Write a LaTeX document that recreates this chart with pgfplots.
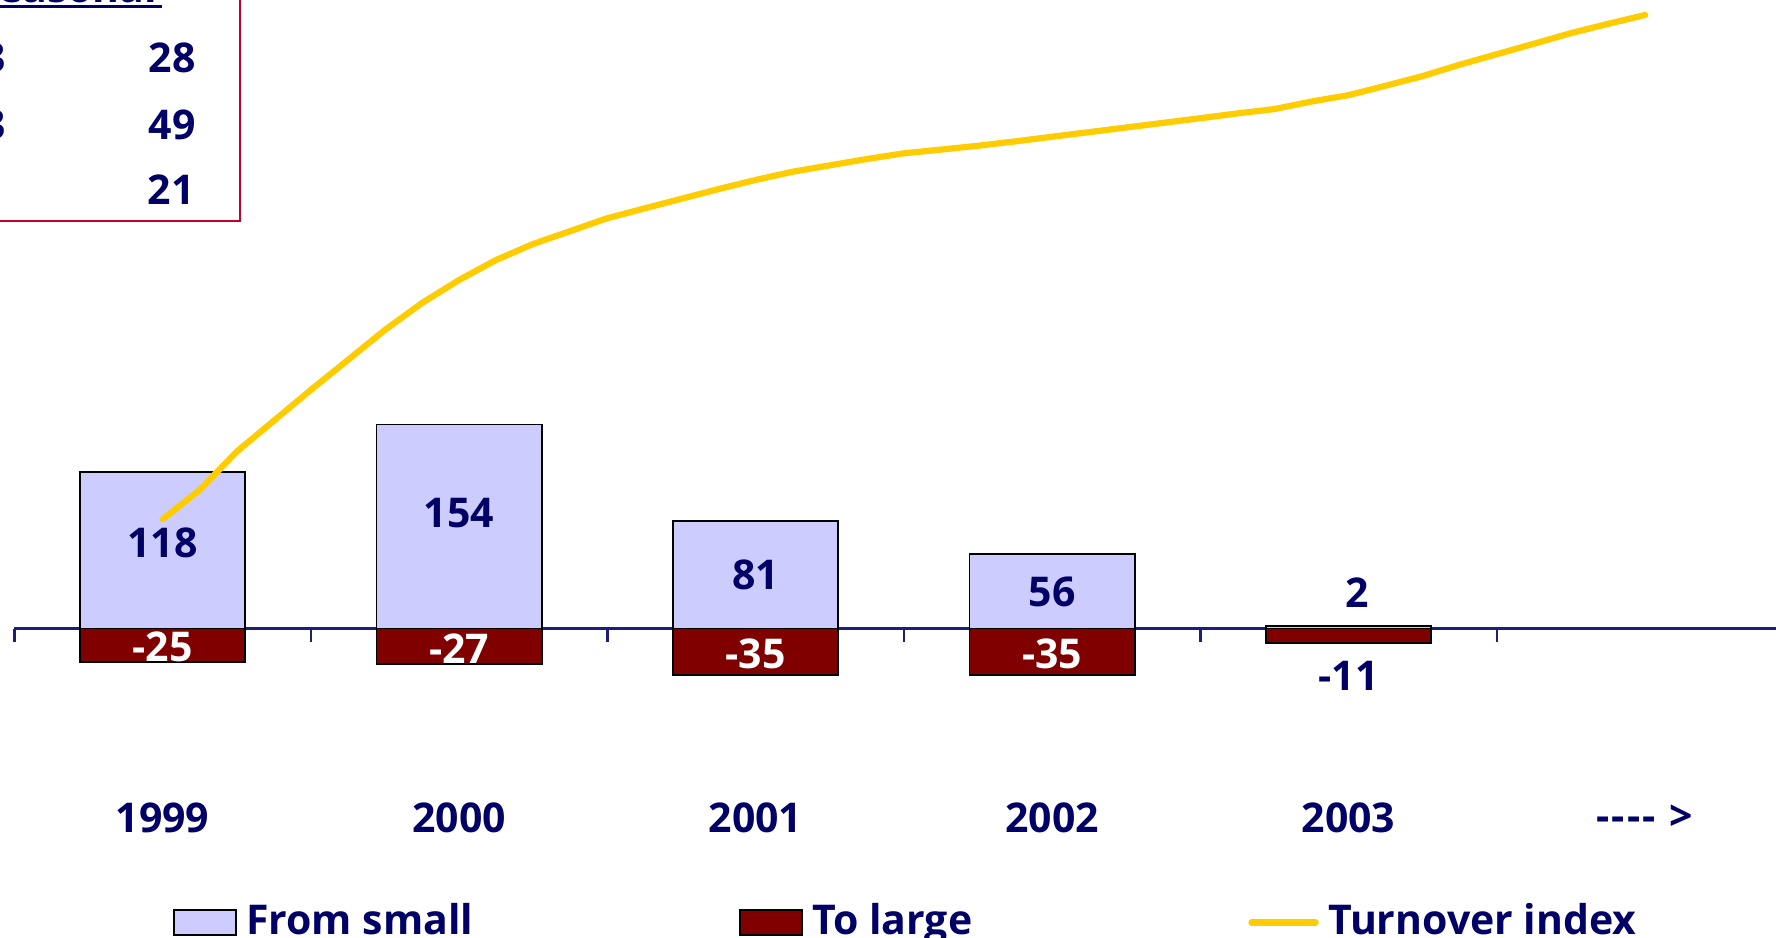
\documentclass[border=0pt]{standalone}
\usepackage{fontspec}
\setmainfont{Open Sans}
\usepackage{pgfplots}
\pgfplotsset{compat=1.18}
\definecolor{textnavy}{RGB}{0,0,102}
\definecolor{axisnavy}{RGB}{30,30,120}
\definecolor{lightbar}{RGB}{204,204,255}
\definecolor{darkbar}{RGB}{128,0,0}
\definecolor{lineyellow}{RGB}{255,204,0}
\definecolor{boxred}{RGB}{192,0,48}
\newcommand\cf{\fontsize{10.25pt}{12pt}\selectfont\bfseries}
\begin{document}
\begin{tikzpicture}
\useasboundingbox (0pt,0pt) rectangle (444pt,234.5pt);
\clip (0pt,0pt) rectangle (444pt,234.5pt);
% cropped table box in the upper left corner
\draw[boxred, line width=0.5pt] (-5pt,179.25pt) rectangle (60pt,240pt);
\node[font=\cf, text=textnavy, anchor=base east, inner sep=0pt] at (39.5pt,233.8pt) {Seasonal};
\draw[textnavy, line width=0.75pt] (0pt,232.9pt) -- (40.5pt,232.9pt);
\node[font=\cf, text=textnavy, anchor=east, inner sep=0pt] at (1.6pt,220pt) {3};
\node[font=\cf, text=textnavy, anchor=east, inner sep=0pt] at (1.6pt,203.25pt) {3};
\node[font=\cf, text=textnavy, inner sep=0pt] at (43pt,220pt) {28};
\node[font=\cf, text=textnavy, inner sep=0pt] at (43pt,203.25pt) {49};
\node[font=\cf, text=textnavy, inner sep=0pt] at (42.75pt,187pt) {21};
\begin{axis}[
  at={(3.575pt,11.1pt)}, anchor=south west,
  scale only axis, width=444.75pt, height=225.25pt,
  xmin=-0.5, xmax=5.5, ymin=-200, ymax=480,
  axis x line=middle, axis y line=none,
  x axis line style={-, draw=axisnavy, line width=0.6pt},
  ytick=\empty,
  xtick={0,1,2,3,4,5},
  xticklabels={1999,2000,2001,2002,2003,{-\kern0.5pt-\kern0.5pt-\kern0.5pt-\kern3.6pt>}},
  major tick length=0pt,
  minor xtick={-0.5,0.5,1.5,2.5,3.5,4.5},
  minor tick length=3.4pt,
  tick align=outside,
  tick style={axisnavy, line width=0.6pt},
  xticklabel style={anchor=center, yshift=-47.25pt, font=\cf, text=textnavy},
  /pgf/number format/assume math mode=true,
  clip=false,
  legend columns=3,
  legend style={at={(0.0886,-0.032)}, anchor=west, draw=none, fill=none,
    inner sep=0pt, column sep=2.4pt,
    nodes={inner sep=0pt, font=\cf, text=textnavy},
    /tikz/column 2/.style={column sep=66.5pt},
    /tikz/column 4/.style={column sep=69pt}},
]
\addplot[ybar, bar width=41.3pt, bar shift=0pt, fill=lightbar, draw=black, line width=0.45pt,
  legend image code/.code={\draw[fill=lightbar, draw=black, line width=0.45pt] (0pt,-3.1pt) rectangle (15.5pt,3.1pt);}]
  coordinates {(0,118) (1,154) (2,81) (3,56) (4,2)};
\addlegendentry{From small}
\addplot[ybar, bar width=41.3pt, bar shift=0pt, fill=darkbar, draw=black, line width=0.45pt,
  legend image code/.code={\draw[fill=darkbar, draw=black, line width=0.45pt] (0pt,-3.1pt) rectangle (15.5pt,3.1pt);}]
  coordinates {(0,-25) (1,-27) (2,-35) (3,-35) (4,-11)};
\addlegendentry{To large}
\addplot[color=lineyellow, line width=1.55pt, line join=round, line cap=round,
  legend image code/.code={\draw[lineyellow, line width=1.6pt, line cap=round] (0pt,0pt) -- (16pt,0pt);}]
  table {
x y
0 82.5
0.125 104.6
0.25 133.5
0.375 156.8
0.5 180.1
0.625 202.7
0.75 225.4
0.875 245.7
1.0 263.1
1.125 278.2
1.25 290.3
1.375 300.0
1.5 309.7
1.625 317.1
1.75 324.4
1.875 331.7
2.0 338.6
2.125 344.8
2.25 349.6
2.375 354.4
2.5 358.7
2.625 361.5
2.75 364.4
2.875 367.7
3.0 371.2
3.125 374.7
3.25 378.2
3.375 381.7
3.5 385.2
3.625 388.8
3.75 392.1
3.875 397.8
4.0 402.6
4.125 409.7
4.25 417.0
4.375 425.6
4.5 433.5
4.625 441.4
4.75 449.4
4.875 456.4
5.0 463.1
};
\addlegendentry{Turnover index}
% value labels
\addplot[draw=none, mark=none, forget plot, nodes near coords, point meta=explicit symbolic,
  every node near coord/.append style={anchor=center, font=\cf, text=textnavy, inner sep=0pt}]
  table[meta=l] {
x y l
0 65.0 118
1 87.2 154
2 40.2 81
3 27.4 56
4.03 27.4 2
4 -35.9 -11
};
\addplot[draw=none, mark=none, forget plot, nodes near coords, point meta=explicit symbolic,
  every node near coord/.append style={anchor=center, font=\cf, text=white, inner sep=0pt}]
  table[meta=l] {
x y l
0 -13.7 -25
1 -15.4 -27
2 -18.8 -35
3 -18.8 -35
};
\end{axis}
\end{tikzpicture}
\end{document}
